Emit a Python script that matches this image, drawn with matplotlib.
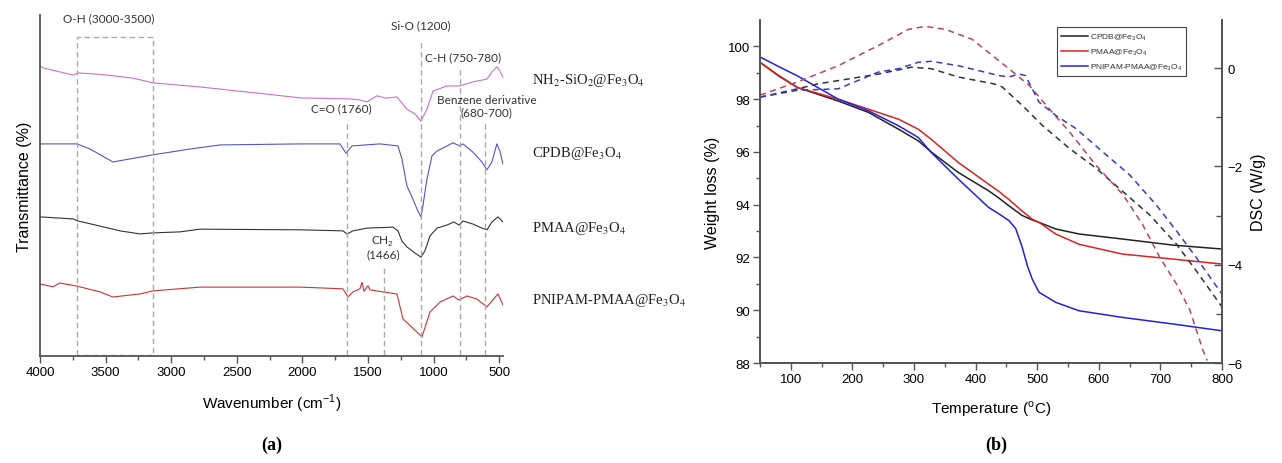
import numpy as np
import matplotlib
matplotlib.use('Agg')
import matplotlib.pyplot as plt

plt.rcParams['font.family'] = ['Liberation Sans', 'DejaVu Sans']
plt.rcParams['mathtext.fontset'] = 'custom'
plt.rcParams['mathtext.rm'] = 'Liberation Sans'

# ---- (a) FTIR spectra, transmittance in arbitrary units (offset traces) ----
nh2_wn = [3990, 3977, 3848, 3748, 3710, 3543, 3291, 3139, 2780, 2270, 2018, 1637, 1560, 1508, 1431, 1360,
          1279, 1203, 1142, 1096, 1050, 1004, 898, 799, 700, 593, 555, 517, 494, 471]
nh2_t = [84.8, 84.5, 83.3, 82.4, 83.0, 82.6, 81.5, 80.1, 78.9, 76.8, 75.7, 75.4, 75.1, 74.5, 76.3, 75.6,
         76.0, 72.4, 71.0, 68.9, 72.4, 77.7, 79.2, 79.2, 80.4, 81.2, 83.3, 84.8, 83.6, 81.8]

cpdb_wn = [4000, 3718, 3619, 3444, 3314, 3139, 2857, 2628, 2018, 1713, 1668, 1622, 1409, 1271, 1241, 1203,
           1157, 1126, 1096, 1081, 1050, 1012, 974, 898, 852, 799, 776, 700, 631, 593, 555, 517, 494, 471]
cpdb_t = [62.2, 62.2, 60.7, 56.9, 57.8, 59.0, 60.7, 61.9, 62.2, 62.2, 59.5, 61.6, 62.2, 61.6, 57.8, 49.9,
          46.0, 43.1, 40.8, 44.0, 51.9, 58.7, 60.1, 61.6, 62.5, 61.6, 62.2, 59.8, 56.9, 54.6, 56.9, 62.2, 60.1, 56.3]

pmaa_wn = [4000, 3748, 3710, 3543, 3390, 3238, 3139, 2933, 2780, 2018, 1690, 1660, 1614, 1508, 1309, 1271,
           1241, 1203, 1142, 1096, 1066, 1027, 974, 898, 844, 806, 776, 700, 631, 593, 555, 509, 471]
pmaa_t = [40.8, 40.2, 39.6, 38.1, 36.7, 35.8, 36.1, 36.4, 37.2, 37.0, 36.7, 35.8, 36.7, 37.5, 37.8, 36.7,
          33.7, 32.0, 30.2, 29.0, 30.8, 35.2, 37.5, 38.4, 39.3, 38.4, 39.6, 38.7, 37.5, 37.0, 39.3, 40.8, 39.3]

pnipam_wn = [4000, 3900, 3850, 3718, 3543, 3444, 3238, 3139, 2780, 2018, 1690, 1652, 1614, 1561, 1545, 1530,
             1500, 1485, 1386, 1279, 1233, 1126, 1088, 1027, 951, 852, 806, 745, 669, 593, 509, 471]
pnipam_t = [21.1, 20.3, 21.4, 20.5, 18.8, 17.3, 18.2, 19.1, 20.2, 20.2, 19.7, 17.3, 18.8, 19.7, 21.6, 19.0,
            20.6, 19.4, 18.8, 18.2, 10.9, 7.0, 5.6, 12.9, 15.8, 17.6, 16.4, 17.6, 16.7, 14.4, 18.2, 15.0]

ftir_names = ['NH$_2$-SiO$_2$@Fe$_3$O$_4$', 'CPDB@Fe$_3$O$_4$', 'PMAA@Fe$_3$O$_4$', 'PNIPAM-PMAA@Fe$_3$O$_4$']
ftir_colors = ['#cc70cc', '#5555cc', '#333333', '#cc3333']
name_y = [81.2, 59.8, 37.8, 16.7]

# band markers: (wavenumber, top of dashed line)
band_lines = [(1663, 69.2), (1378, 26.1), (1096, 92.7), (799, 84.5), (608, 68.3)]
oh_box = (3720, 3136, 93.6)

# ---- (b) TGA / DSC ----
T = [50, 80, 111, 177, 226, 275, 307, 328, 372, 421, 438, 454, 475, 492, 503, 530, 568, 638, 720, 800]
w_cpdb = [99.4, 98.9, 98.44, 97.93, 97.5, 96.86, 96.42, 96.0, 95.22, 94.53, 94.25, 93.96, 93.6, 93.42,
          93.33, 93.08, 92.89, 92.7, 92.47, 92.32]
w_pmaa = [99.4, 98.88, 98.44, 98.0, 97.62, 97.24, 96.86, 96.48, 95.6, 94.78, 94.5, 94.2, 93.77, 93.45,
          93.33, 92.89, 92.5, 92.13, 91.94, 91.75]
T_blue = [50, 80, 111, 177, 226, 275, 307, 328, 372, 421, 438, 454, 465, 475, 484, 492, 503, 530, 568, 638, 720, 800]
w_pnipam = [99.6, 99.24, 98.88, 98.0, 97.56, 96.99, 96.55, 95.98, 94.97, 93.9, 93.65, 93.4, 93.1, 92.44,
            91.69, 91.18, 90.68, 90.3, 89.98, 89.73, 89.48, 89.22]

T_dsc_cpdb = [50, 111, 144, 242, 296, 328, 372, 430, 443, 476, 508, 552, 595, 639, 682, 726, 758, 800]
dsc_cpdb = [-0.59, -0.42, -0.32, -0.12, 0.02, -0.01, -0.18, -0.32, -0.38, -0.76, -1.16, -1.63, -2.03,
            -2.51, -2.98, -3.58, -4.12, -4.86]
T_dsc_pmaa = [50, 111, 177, 242, 291, 318, 351, 394, 421, 454, 487, 519, 552, 595, 639, 671, 699, 726, 748, 769, 776]
dsc_pmaa = [-0.55, -0.28, 0.05, 0.46, 0.79, 0.85, 0.79, 0.59, 0.32, -0.01, -0.35, -0.82, -1.29, -1.97,
            -2.57, -3.18, -3.85, -4.39, -4.93, -5.74, -5.95]
T_dsc_pnipam = [50, 111, 177, 242, 275, 307, 328, 372, 438, 454, 470, 481, 503, 530, 563, 606, 650, 693, 726, 758, 800]
dsc_pnipam = [-0.59, -0.45, -0.42, -0.08, -0.01, 0.12, 0.14, 0.05, -0.15, -0.18, -0.12, -0.15, -0.69,
              -0.96, -1.23, -1.70, -2.17, -2.78, -3.31, -3.85, -4.60]

fig = plt.figure(figsize=(12.82, 4.64), dpi=100)

# ================= panel (a) =================
axa = fig.add_axes([0.0312, 0.2306, 0.3612, 0.7349])
for wn, t, c in zip([nh2_wn, cpdb_wn, pmaa_wn, pnipam_wn], [nh2_t, cpdb_t, pmaa_t, pnipam_t], ftir_colors):
    axa.plot(wn, t, color=c, lw=0.8)

dash_kw = dict(color='#aaaaaa', lw=1.0, ls=(0, (4, 2.5)))
for wn, top in band_lines:
    axa.plot([wn, wn], [0.4, top], **dash_kw)
axa.plot([oh_box[0], oh_box[0], oh_box[1], oh_box[1], oh_box[0]],
         [0.4, oh_box[2], oh_box[2], 0.4, 0.4], **dash_kw)

axa.set_xlim(4000, 470)
axa.set_ylim(0, 100)
axa.set_xticks(np.arange(4000, 499, -500))
axa.set_xticks(np.arange(3750, 499, -500), minor=True)
axa.set_yticks([])
for s in ['top', 'right']:
    axa.spines[s].set_visible(False)
for s in ['left', 'bottom']:
    axa.spines[s].set_color('#555555')
    axa.spines[s].set_linewidth(1.3)
axa.tick_params(axis='x', which='major', length=5, width=1, color='#555555', labelsize=9.5, pad=2)
axa.tick_params(axis='x', which='minor', length=3, width=1, color='#555555')
axa.set_xlabel('Wavenumber (cm$^{-1}$)', fontsize=11, labelpad=10)
axa.set_ylabel('Transmittance (%)', fontsize=11.5, labelpad=6)

ann_kw = dict(fontsize=8.5, ha='center', va='center', color='#333333', family=['Lato', 'DejaVu Sans'])
axa.text(3474, 99.1, 'O-H (3000-3500)', clip_on=False, **ann_kw)
axa.text(1706, 72.7, 'C=O (1760)', **ann_kw)
axa.text(1096, 97.1, 'Si-O (1200)', clip_on=False, **ann_kw)
axa.text(776, 87.7, 'C-H (750-780)', **ann_kw)
axa.text(597, 73.5, 'Benzene derivative\n(680-700)', linespacing=1.15, clip_on=False, **ann_kw)
axa.text(1386, 32.1, 'CH$_2$\n(1466)', linespacing=1.1, **ann_kw)

for name, y in zip(ftir_names, name_y):
    axa.text(1.063, y, name, transform=axa.get_yaxis_transform(), fontsize=10.5, va='center', ha='left',
             family='Liberation Serif', math_fontfamily='stix', color='#222222')

fig.text(0.212, 0.03, '(a)', fontsize=13, fontweight='bold', family='Liberation Serif', ha='center')

# ================= panel (b) =================
axb = fig.add_axes([0.5928, 0.2155, 0.3604, 0.7392])
axc = axb.twinx()
l1, = axb.plot(T, w_cpdb, color='#222222', lw=1.1, label='CPDB@Fe$_3$O$_4$')
l2, = axb.plot(T, w_pmaa, color='#dd2222', lw=1.1, label='PMAA@Fe$_3$O$_4$')
l3, = axb.plot(T_blue, w_pnipam, color='#2222dd', lw=1.1, label='PNIPAM-PMAA@Fe$_3$O$_4$')

dkw = dict(lw=1.1, ls=(0, (4, 3)))
axc.plot(T_dsc_cpdb, dsc_cpdb, color='#333333', **dkw)
axc.plot(T_dsc_pmaa, dsc_pmaa, color='#c04458', **dkw)
axc.plot(T_dsc_pnipam, dsc_pnipam, color='#3a3ac8', **dkw)

axb.set_xlim(50, 800)
axb.set_ylim(88, 101)
axc.set_ylim(-6, 0.98)
axb.set_xticks(np.arange(100, 801, 100))
axb.set_xticks(np.arange(50, 801, 50), minor=True)
axb.set_yticks(np.arange(88, 101, 2))
axb.set_yticks(np.arange(89, 101, 1), minor=True)
axc.set_yticks([0, -2, -4, -6])
axc.set_yticks([-1, -3, -5], minor=True)

for ax in (axb, axc):
    ax.spines['top'].set_visible(False)
    for s in ['left', 'bottom', 'right']:
        ax.spines[s].set_color('#555555')
        ax.spines[s].set_linewidth(1.3)
axb.tick_params(which='major', length=5, width=1, color='#555555', labelsize=9.5, pad=2)
axb.tick_params(which='minor', length=3, width=1, color='#555555')
axc.tick_params(which='major', direction='in', length=6, width=1, color='#555555', labelsize=9.5, pad=4)
axc.tick_params(which='minor', direction='in', length=4, width=1, color='#555555')

axb.set_xlabel('Temperature ($^{\\rm o}$C)', fontsize=11, labelpad=10)
axb.set_ylabel('Weight loss (%)', fontsize=11.5, labelpad=6)
axc.set_ylabel('DSC (W/g)', fontsize=11.5, labelpad=6)

leg = axb.legend(handles=[l1, l2, l3], loc='upper left', bbox_to_anchor=(0.634, 0.991), fontsize=6,
                 handlelength=3.2, handletextpad=0.2, labelspacing=0.55, borderpad=0.5,
                 fancybox=False, framealpha=1, edgecolor='#444444', labelcolor='#333333')
leg.get_frame().set_linewidth(0.8)

fig.text(0.777, 0.03, '(b)', fontsize=13, fontweight='bold', family='Liberation Serif', ha='center')

fig.savefig('out.png', dpi=100)
